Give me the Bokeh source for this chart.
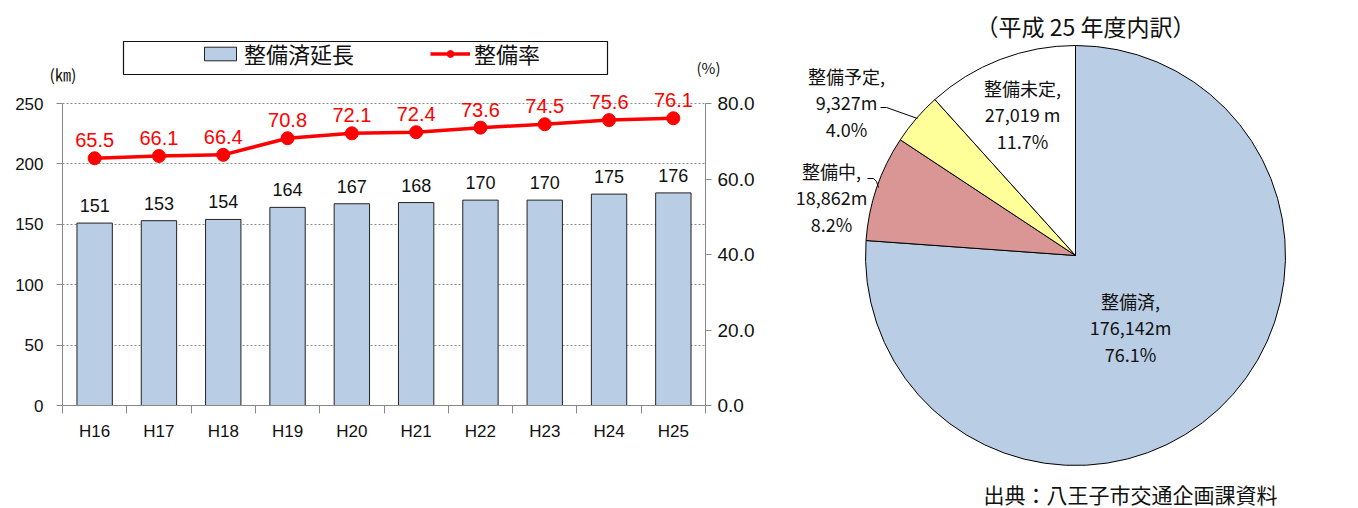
import numpy as np
from bokeh.plotting import figure
from bokeh.models import (Range1d, LinearAxis, FixedTicker, Legend, LegendItem, Label,
                          ColumnDataSource, NumeralTickFormatter)
from bokeh.layouts import row, column
from bokeh.embed import file_html
from bokeh.resources import INLINE
from bokeh.core.properties import value

# ---------------- data ----------------
years = ["H16", "H17", "H18", "H19", "H20", "H21", "H22", "H23", "H24", "H25"]
length_km = [151, 153, 154, 164, 167, 168, 170, 170, 175, 176]
rate_pct = [65.5, 66.1, 66.4, 70.8, 72.1, 72.4, 73.6, 74.5, 75.6, 76.1]
left_ticks = [0, 50, 100, 150, 200, 250]
right_ticks = [0, 20, 40, 60, 80]

pie_names = ["整備済", "整備中", "整備予定", "整備未定"]
pie_meters = [176142, 18862, 9327, 27019]
pie_meter_text = ["176,142m", "18,862m", "9,327m", "27,019 m"]
pie_pct_text = ["76.1%", "8.2%", "4.0%", "11.7%"]
pie_colors = ["#B9CDE5", "#D99694", "#FFFF99", "#FFFFFF"]

JP = "Noto Sans CJK JP"
NUM = "Liberation Sans"
BAR_FILL = "#B9CDE5"
RED = "#FF0000"
INK = "#111111"
AXIS_GREY = "#888888"

W1 = 760
TOP_H = 84            # height of the legend strip above the bar chart
AXIS_TOP_PX = 103     # page y of the 250 / 80.0 tick
AXIS_BOT_PX = 405     # page y of the 0 tick
head = (AXIS_BOT_PX - TOP_H) / (AXIS_BOT_PX - AXIS_TOP_PX)   # extra head-room factor

src = ColumnDataSource(dict(x=list(range(len(years))), year=years, km=length_km, rate=rate_pct,
                            km_txt=[str(v) for v in length_km],
                            rate_txt=[f"{v:.1f}" for v in rate_pct]))

# ---------------- top strip: legend + unit labels ----------------
top = figure(width=W1, height=TOP_H, x_range=Range1d(0, W1), y_range=Range1d(0, TOP_H),
             output_backend="svg", toolbar_location=None, x_axis_type=None, y_axis_type=None,
             min_border=0)
top.frame_align = False
top.grid.grid_line_color = None
top.outline_line_color = None
# legend proxies: same data, mapped to an off-screen range so only the legend swatches show
top.extra_x_ranges = {"off": Range1d(-1000, -990)}
lg_bar = top.vbar(x="x", top="km", width=0.55, source=src, x_range_name="off",
                  fill_color=BAR_FILL, line_color="#222222", line_width=1)
lg_line = top.line(x="x", y="rate", source=src, x_range_name="off", line_color=RED, line_width=3.5)
lg_dot = top.scatter(x="x", y="rate", source=src, x_range_name="off", size=13,
                     fill_color=RED, line_color=RED)

legend = Legend(items=[LegendItem(label="整備済延長", renderers=[lg_bar]),
                       LegendItem(label="整備率", renderers=[lg_line, lg_dot])],
                orientation="horizontal", location=(200, TOP_H - 69),
                border_line_color=None, background_fill_alpha=0,
                glyph_width=40, glyph_height=17, label_standoff=4, spacing=76,
                padding=0, margin=0, label_text_font=JP, label_text_font_size="22px",
                label_text_color=INK)
top.add_layout(legend)
# legend frame
top.quad(left=[123], right=[607], bottom=[TOP_H - 74], top=[TOP_H - 41], fill_alpha=0,
         line_color=INK, line_width=1.2)

top.add_layout(Label(x=49, y=TOP_H - 73, text="(㎞)", text_baseline="middle", text_font=JP,
                     text_font_size="16px", text_color=INK))
top.add_layout(Label(x=696, y=TOP_H - 67, text="(%)", text_baseline="middle", text_font=JP,
                     text_font_size="15px", text_color=INK))

# ---------------- bar + line chart ----------------
p = figure(width=W1, height=508 - TOP_H, x_range=Range1d(-0.5, len(years) - 0.5),
           y_range=Range1d(0, left_ticks[-1] * head), output_backend="svg",
           toolbar_location=None, min_border_left=62, min_border_right=55,
           min_border_top=0, min_border_bottom=508 - AXIS_BOT_PX)
p.frame_align = False
p.extra_y_ranges = {"rate": Range1d(0, right_ticks[-1] * head)}
p.outline_line_color = None

p.xgrid.grid_line_color = None
p.ygrid.ticker = FixedTicker(ticks=left_ticks)
p.ygrid.grid_line_color = "#8c8c8c"
p.ygrid.grid_line_dash = "2 2"

p.vbar(x="x", top="km", width=0.55, source=src, fill_color=BAR_FILL,
       line_color="#222222", line_width=1)
p.line(x="x", y="rate", source=src, y_range_name="rate", line_color=RED, line_width=3.5)
p.scatter(x="x", y="rate", source=src, y_range_name="rate", size=13,
          fill_color=RED, line_color=RED)

p.text(x="x", y="km", text="km_txt", source=src, text_align="center",
       text_baseline="bottom", y_offset=-11, text_font=value(NUM), text_font_size="18px",
       text_color=INK)
p.text(x="x", y="rate", text="rate_txt", source=src, y_range_name="rate", text_align="center",
       text_baseline="bottom", y_offset=-11, text_font=value(NUM), text_font_size="20px",
       text_color=RED)

# axes
xs = list(range(len(years)))
p.xaxis.ticker = FixedTicker(ticks=xs, minor_ticks=[i - 0.5 for i in range(len(years) + 1)])
p.xaxis.major_label_overrides = {i: years[i] for i in xs}
p.xaxis.major_tick_line_color = None
p.xaxis.major_tick_out = 0
p.xaxis.minor_tick_out = 8
p.xaxis.minor_tick_in = 0
p.xaxis.minor_tick_line_color = AXIS_GREY
p.xaxis.axis_line_color = AXIS_GREY
p.xaxis.major_label_standoff = 8
p.xaxis.major_label_text_font = NUM
p.xaxis.major_label_text_font_size = "17px"
p.xaxis.major_label_text_color = INK

p.yaxis.ticker = FixedTicker(ticks=left_ticks)
p.yaxis.bounds = (left_ticks[0], left_ticks[-1])
p.yaxis.axis_line_color = AXIS_GREY
p.yaxis.major_tick_line_color = AXIS_GREY
p.yaxis.major_tick_out = 6
p.yaxis.major_tick_in = 0
p.yaxis.minor_tick_line_color = None
p.yaxis.major_label_standoff = 13
p.yaxis.major_label_text_font = NUM
p.yaxis.major_label_text_font_size = "17px"
p.yaxis.major_label_text_color = INK

ax_r = LinearAxis(y_range_name="rate", ticker=FixedTicker(ticks=right_ticks),
                  formatter=NumeralTickFormatter(format="0.0"),
                  bounds=(right_ticks[0], right_ticks[-1]))
ax_r.axis_line_color = AXIS_GREY
ax_r.major_tick_line_color = AXIS_GREY
ax_r.major_tick_out = 6
ax_r.major_tick_in = 0
ax_r.minor_tick_line_color = None
ax_r.major_label_standoff = 6
ax_r.major_label_text_font = NUM
ax_r.major_label_text_font_size = "19px"
ax_r.major_label_text_color = INK
p.add_layout(ax_r, "right")

# ---------------- pie chart ----------------
W2, H2 = 1358 - W1, 508
q = figure(width=W2, height=H2, x_range=Range1d(0, W2), y_range=Range1d(0, H2),
           output_backend="svg", toolbar_location=None, x_axis_type=None, y_axis_type=None,
           min_border=0)
q.frame_align = False
q.grid.grid_line_color = None
q.outline_line_color = None

cx, cy, r = 315, 253, 210
frac = np.array(pie_meters) / sum(pie_meters)
cum = np.concatenate([[0], np.cumsum(frac)])
start = np.pi / 2 - 2 * np.pi * cum[1:]
end = np.pi / 2 - 2 * np.pi * cum[:-1]
q.wedge(x=cx, y=cy, radius=r, start_angle=start, end_angle=end, fill_color=pie_colors,
        line_color="#000000", line_width=1)

# label positions (layout)
lab_x = [370, 71, 86, 262]
lab_y = [208, 338, 433, 421]
line_gap = 26.5
tx, ty, tt = [], [], []
for i in range(len(pie_names)):
    for k, t in enumerate([pie_names[i] + ",", pie_meter_text[i], pie_pct_text[i]]):
        tx.append(lab_x[i]); ty.append(lab_y[i] - k * line_gap); tt.append(t)
q.text(x=tx, y=ty, text=tt, text_align="center", text_baseline="middle",
       text_font=value(JP), text_font_size="18px", text_color=INK)

# leader lines
q.line(x=[120, 126, 157], y=[401, 401, 390], line_color="#000000", line_width=1)
q.line(x=[107, 113, 116, 118], y=[330, 330, 327, 321], line_color="#000000", line_width=1)

q.text(x=[325], y=[483], text=["（平成 25 年度内訳）"], text_align="center",
       text_baseline="middle", text_font=value(JP), text_font_size="23px", text_color=INK)
q.text(x=[370], y=[15], text=["出典：八王子市交通企画課資料"], text_align="center",
       text_baseline="middle", text_font=value(JP), text_font_size="21px", text_color=INK)

layout = row(column(top, p), q)
open("out.html", "w").write(file_html(layout, INLINE))
